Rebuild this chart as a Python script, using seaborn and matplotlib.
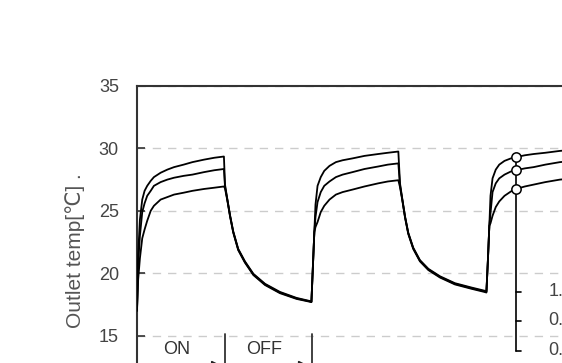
import numpy as np
import pandas as pd
import matplotlib
matplotlib.use("Agg")
import matplotlib.pyplot as plt
import seaborn as sns

# ---- data ----
time = [0, 0.4, 1.0, 1.8, 2.6, 3.5, 4.7, 5.8, 8.1, 10.4, 12.7, 16, 19, 23, 26.5, 29.8,
        30.17, 30.96, 31.9, 33.0, 34.7, 37.0, 39.9, 43.9, 49.0, 54.7, 59.1, 59.8,
        60.3, 60.8, 61.2, 61.9, 63.0, 64.2, 66.0, 68.2, 70.5, 73.9, 78, 82.7, 86, 89.6,
        90.17, 90.96, 91.9, 93.0, 94.7, 97.0, 99.9, 103.9, 109, 114.7, 119.1, 119.8,
        120.3, 120.8, 121.2, 121.9, 123.0, 124.2, 126.0, 128.2, 129.9, 133, 136, 140, 145, 150]
temp_high = [17.0, 21.5, 24.3, 25.9, 26.6, 27.0, 27.4, 27.7, 28.05, 28.3, 28.5, 28.7, 28.9, 29.1, 29.25, 29.35,
             27.1, 25.95, 24.65, 23.35, 21.95, 20.95, 19.95, 19.15, 18.5, 18.02, 17.78, 17.72,
             20.5, 23.3, 25.5, 27.0, 27.7, 28.2, 28.6, 28.9, 29.05, 29.2, 29.4, 29.55, 29.65, 29.75,
             27.2, 25.95, 24.55, 23.25, 22.05, 21.05, 20.35, 19.75, 19.2, 18.85, 18.6, 18.55,
             21.0, 23.8, 26.2, 27.6, 28.3, 28.7, 29.0, 29.2, 29.3, 29.45, 29.55, 29.65, 29.8, 29.9]
temp_mid = [17.0, 20.8, 23.0, 24.9, 25.6, 26.2, 26.6, 27.0, 27.3, 27.5, 27.65, 27.8, 27.9, 28.1, 28.25, 28.35,
            26.95, 25.9, 24.6, 23.3, 21.9, 20.9, 19.9, 19.1, 18.45, 17.98, 17.75, 17.7,
            20.5, 23.3, 24.5, 25.7, 26.5, 27.0, 27.35, 27.7, 27.9, 28.1, 28.35, 28.55, 28.7, 28.8,
            27.05, 25.9, 24.5, 23.2, 22.0, 21.0, 20.3, 19.7, 19.15, 18.8, 18.55, 18.5,
            21.0, 23.8, 24.8, 26.5, 27.2, 27.6, 27.9, 28.15, 28.25, 28.4, 28.5, 28.7, 28.9, 29.0]
temp_low = [17.0, 19.5, 21.2, 22.8, 23.5, 24.2, 25.0, 25.4, 25.9, 26.1, 26.3, 26.45, 26.6, 26.75, 26.85, 26.95,
            26.8, 25.85, 24.55, 23.25, 21.85, 20.85, 19.85, 19.05, 18.4, 17.94, 17.72, 17.68,
            20.5, 23.3, 23.7, 24.1, 24.9, 25.4, 25.9, 26.3, 26.5, 26.7, 26.95, 27.2, 27.35, 27.45,
            26.9, 25.85, 24.45, 23.15, 21.95, 20.95, 20.25, 19.65, 19.1, 18.75, 18.5, 18.45,
            21.0, 23.8, 24.0, 24.6, 25.3, 25.75, 26.2, 26.55, 26.75, 26.95, 27.1, 27.3, 27.5, 27.6]

marker_time = [129.9, 129.9, 129.9]
marker_temp = [29.3, 28.25, 26.75]

y_ticks = [15, 20, 25, 30, 35]
inset_ticks = [18.5, 16.2, 13.8]
inset_labels = ["1.0", "0.5", "0.0"]
phase_labels = ["ON", "OFF"]
phase_bounds = [0, 30.2, 60]

df = pd.DataFrame({
    "time": time * 3,
    "temp": temp_high + temp_mid + temp_low,
    "curve": ["high"] * len(time) + ["mid"] * len(time) + ["low"] * len(time),
})

sns.set_style("white")
plt.rcParams["font.family"] = ["Liberation Sans", "DejaVu Sans"]

W, H = 562, 363
fig = plt.figure(figsize=(W / 100, H / 100), dpi=100)
# axes extends beyond the right and bottom edges (cropped figure)
ax = fig.add_axes([137 / W, 1 - 398 / H, 437.5 / W, 312 / H])

sns.lineplot(data=df, x="time", y="temp", units="curve", estimator=None,
             sort=False, color="black", lw=1.3, ax=ax, zorder=3)

# inset scale line
tc = marker_time[0]
ax.plot([tc, tc], [marker_temp[0], inset_ticks[-1]], color="black", lw=1.2, zorder=2)
for yt, lab in zip(inset_ticks, inset_labels):
    ax.plot([tc, tc + 1.8], [yt, yt], color="black", lw=1.2, zorder=2)
    ax.text(141.0, yt, lab, ha="left", va="center", fontsize=13, color="#444444")

sns.scatterplot(x=marker_time, y=marker_temp, s=45, marker="o",
                facecolor="white", edgecolor="black", linewidth=1.1, ax=ax, zorder=5)

# ON / OFF annotations
for xb in phase_bounds[1:]:
    ax.plot([xb, xb], [15.15, 12.0], color="#333333", lw=1.3, zorder=2)
for i, lab in enumerate(phase_labels):
    x0, x1 = phase_bounds[i], phase_bounds[i + 1]
    ax.text((x0 + x1) / 2 - 1.5, 13.9, lab, ha="center", va="center",
            fontsize=13, color="#333333")
    ax.annotate("", xy=(x1 - 0.3, 12.6), xytext=(x0 + 0.5, 12.6),
                arrowprops=dict(arrowstyle="-|>", color="#222222", lw=1.2,
                                mutation_scale=14))

ax.set_xlim(0, 150)
ax.set_ylim(10, 35)
ax.set_yticks(y_ticks)
ax.set_xticks([])
ax.set_xlabel("")
ax.yaxis.grid(True, linestyle=(0, (6, 5)), color="#cccccc", lw=1.0)
ax.set_axisbelow(True)
ax.tick_params(axis="y", direction="in", length=6, width=1.2, pad=13,
               labelsize=13, labelcolor="#444444", color="#333333", left=True)
for side in ["right", "bottom"]:
    ax.spines[side].set_visible(False)
for side in ["top", "left"]:
    ax.spines[side].set_visible(True)
    ax.spines[side].set_color("#333333")
    ax.spines[side].set_linewidth(1.5)

ax.set_ylabel("Outlet temp[℃] .", fontsize=15, color="#555555")
ax.yaxis.label.set_va("center")
ax.yaxis.set_label_coords((75 - 137) / 437.5, (398 - 251) / 312)

fig.savefig("out.png", dpi=100)
